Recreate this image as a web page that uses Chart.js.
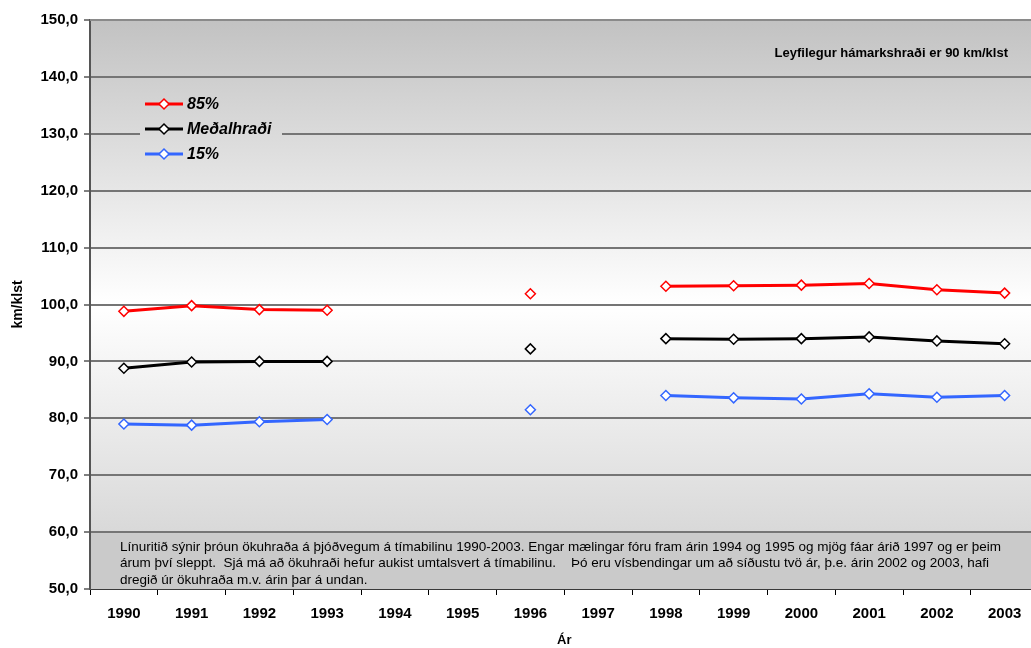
<!DOCTYPE html>
<html lang="is">
<head>
<meta charset="utf-8">
<title>Ökuhraði á þjóðvegum 1990-2003</title>
<script src="https://cdn.jsdelivr.net/npm/chart.js@4.4.1/dist/chart.umd.min.js"></script>
<style>
    html, body { margin: 0; padding: 0; background: #ffffff; overflow: hidden; }
    #contenedor { position: relative; width: 1045px; height: 648px; }
</style>
</head>
<body>
<div id="contenedor"><canvas id="grafico"></canvas></div>
<script>
// Datos del gráfico.
const ANOS = ['1990', '1991', '1992', '1993', '1994', '1995', '1996', '1997', '1998', '1999', '2000', '2001', '2002', '2003'];
const P85 = [98.8, 99.8, 99.1, 99.0, null, null, 101.9, null, 103.2, 103.3, 103.4, 103.7, 102.6, 102.0];
const MEDAL = [88.8, 89.9, 90.0, 90.0, null, null, 92.2, null, 94.0, 93.9, 94.0, 94.3, 93.6, 93.1];
const P15 = [79.0, 78.8, 79.4, 79.8, null, null, 81.5, null, 84.0, 83.6, 83.4, 84.3, 83.7, 84.0];
const SERIES = ['85%', 'Meðalhraði', '15%'];
const COLORES = ['#ff0000', '#000000', '#3366ff'];

// Textos del gráfico.
const NOTA = 'Leyfilegur hámarkshraði er 90 km/klst';
const TEXTO = [
    'Línuritið sýnir þróun ökuhraða á þjóðvegum á tímabilinu 1990-2003. Engar mælingar fóru fram árin 1994 og 1995 og mjög fáar árið 1997 og er þeim',
    'árum því sleppt.  Sjá má að ökuhraði hefur aukist umtalsvert á tímabilinu.    Þó eru vísbendingar um að síðustu tvö ár, þ.e. árin 2002 og 2003, hafi',
    'dregið úr ökuhraða m.v. árin þar á undan.'
];

const FUENTE = '"Liberation Sans", Arial, sans-serif';

// Se devuelve el degradado gris-blanco-gris del área de trazado.
const degradado = (chart) => {
    const { ctx, chartArea } = chart;
    const g = ctx.createLinearGradient(0, chartArea.top, 0, chartArea.bottom);
    g.addColorStop(0, '#c2c2c2');
    g.addColorStop(0.5, '#ffffff');
    g.addColorStop(1, '#cfcfcf');
    return g;
};

// Plugin para el fondo del área de trazado.
const fondoPlugin = {
    id: 'fondo',
    beforeDraw: (chart) => {
        const { ctx, chartArea } = chart;
        ctx.save();
        ctx.fillStyle = degradado(chart);
        ctx.fillRect(chartArea.left, chartArea.top, chartArea.right - chartArea.left, chartArea.bottom - chartArea.top);
        ctx.restore();
    }
};

// Plugin para la leyenda, la nota y el cuadro de texto dentro del área.
const anotacionesPlugin = {
    id: 'anotaciones',
    beforeDatasetsDraw: (chart) => {
        const { ctx, chartArea, scales } = chart;
        ctx.save();

        // Borde superior gris.
        ctx.strokeStyle = '#8a8a8a';
        ctx.lineWidth = 2;
        ctx.beginPath();
        ctx.moveTo(chartArea.left, chartArea.top);
        ctx.lineTo(chartArea.right, chartArea.top);
        ctx.stroke();

        // Cuadro de texto inferior.
        const y60 = scales.y.getPixelForValue(60);
        ctx.fillStyle = '#cacaca';
        ctx.fillRect(chartArea.left + 1, y60 + 1, chartArea.right - chartArea.left, chartArea.bottom - y60 - 1);
        ctx.fillStyle = '#000000';
        ctx.font = '13.5px ' + FUENTE;
        ctx.textBaseline = 'middle';
        ctx.textAlign = 'left';
        TEXTO.forEach((linea, i) => {
            ctx.fillText(linea, chartArea.left + 30, y60 + 15 + i * 16.5);
        });

        // Nota sobre el límite de velocidad.
        ctx.font = 'bold 13px ' + FUENTE;
        ctx.textAlign = 'right';
        ctx.fillText(NOTA, chartArea.left + 918, chartArea.top + 33);

        // Caja de la leyenda con el mismo fondo.
        ctx.fillStyle = degradado(chart);
        ctx.fillRect(chartArea.left + 50, chartArea.top + 70, 142, 80);

        ctx.restore();
    },
    afterDatasetsDraw: (chart) => {
        const { ctx, chartArea } = chart;
        ctx.save();
        SERIES.forEach((nombre, i) => {
            const y = chartArea.top + 84 + i * 25;
            const x0 = chartArea.left + 55;
            const x1 = chartArea.left + 93;
            ctx.strokeStyle = COLORES[i];
            ctx.lineWidth = 3;
            ctx.beginPath();
            ctx.moveTo(x0, y);
            ctx.lineTo(x1, y);
            ctx.stroke();
            // Marcador en forma de rombo.
            const xc = (x0 + x1) / 2;
            const r = 5;
            ctx.fillStyle = '#ffffff';
            ctx.lineWidth = 1.5;
            ctx.beginPath();
            ctx.moveTo(xc, y - r);
            ctx.lineTo(xc + r, y);
            ctx.lineTo(xc, y + r);
            ctx.lineTo(xc - r, y);
            ctx.closePath();
            ctx.fill();
            ctx.stroke();
            ctx.fillStyle = '#000000';
            ctx.font = 'italic bold 16px ' + FUENTE;
            ctx.textAlign = 'left';
            ctx.textBaseline = 'middle';
            ctx.fillText(nombre, x1 + 4, y + 1);
        });
        ctx.restore();
    }
};

// Se construyen los conjuntos de datos.
const crearSerie = (nombre, datos, color) => ({
    label: nombre,
    data: datos,
    borderColor: color,
    backgroundColor: '#ffffff',
    borderWidth: 3,
    pointStyle: 'rectRot',
    pointRadius: 5,
    pointBorderWidth: 1.5,
    pointBackgroundColor: '#ffffff',
    pointBorderColor: color,
    spanGaps: false,
    tension: 0
});

new Chart(document.getElementById('grafico'), {
    type: 'line',
    data: {
        labels: ANOS,
        datasets: [
            crearSerie(SERIES[0], P85, COLORES[0]),
            crearSerie(SERIES[1], MEDAL, COLORES[1]),
            crearSerie(SERIES[2], P15, COLORES[2])
        ]
    },
    options: {
        responsive: true,
        maintainAspectRatio: false,
        animation: false,
        layout: { padding: { top: 20, right: 3, bottom: 0, left: 0 } },
        plugins: {
            legend: { display: false },
            tooltip: { enabled: false }
        },
        scales: {
            x: {
                offset: true,
                grid: {
                    offset: true,
                    drawOnChartArea: false,
                    tickLength: 6,
                    tickColor: '#000000',
                    lineWidth: 1
                },
                border: { color: '#000000', width: 1.5 },
                ticks: {
                    color: '#000000',
                    padding: 10,
                    maxRotation: 0,
                    autoSkip: false,
                    font: { family: FUENTE, size: 15, weight: 'bold' }
                },
                title: {
                    display: true,
                    text: 'Ár',
                    color: '#000000',
                    padding: { top: 0, bottom: 0 },
                    font: { family: FUENTE, size: 13, weight: 'bold' }
                },
                afterFit: (scale) => { scale.height = 59; }
            },
            y: {
                min: 50,
                max: 150,
                ticks: {
                    stepSize: 10,
                    color: '#000000',
                    padding: 6,
                    font: { family: FUENTE, size: 15, weight: 'bold' },
                    callback: (v) => v.toFixed(1).replace('.', ',')
                },
                grid: {
                    color: '#757575',
                    lineWidth: 2,
                    tickLength: 6,
                    tickColor: '#000000',
                    tickWidth: 1
                },
                border: { color: '#555555', width: 2 },
                title: {
                    display: true,
                    text: 'km/klst',
                    color: '#000000',
                    padding: { top: 10, bottom: 0 },
                    font: { family: FUENTE, size: 14, weight: 'bold' }
                },
                afterFit: (scale) => { scale.width = 90; }
            }
        }
    },
    plugins: [fondoPlugin, anotacionesPlugin]
});
</script>
</body>
</html>
